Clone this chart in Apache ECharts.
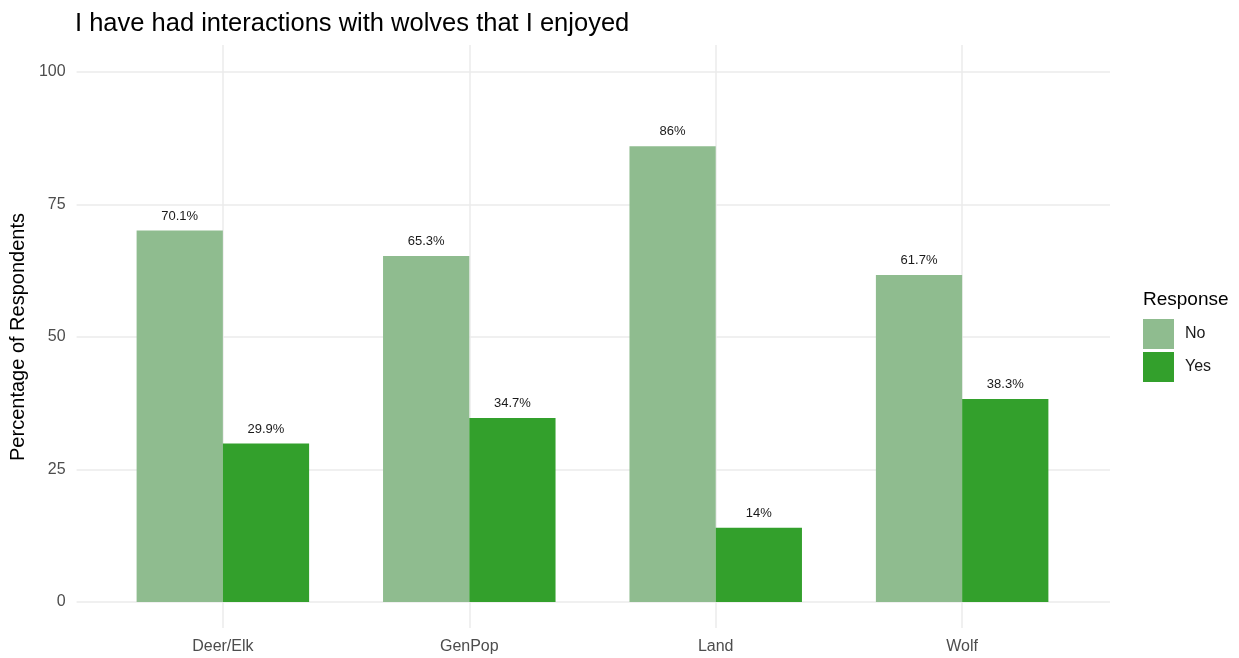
<!DOCTYPE html>
<html>
<head>
<meta charset="utf-8">
<title>Wolf interactions</title>
<script src="https://cdn.jsdelivr.net/npm/echarts@6/dist/echarts.min.js"></script>
<style>
  html, body { margin: 0; padding: 0; background: #ffffff; }
  #chart { width: 1239px; height: 658px; }
</style>
</head>
<body>
<div id="chart"></div>
<script>
// Survey groups and share of respondents answering No / Yes
const categories = ['Deer/Elk', 'GenPop', 'Land', 'Wolf'];
const noValues = [70.1, 65.3, 86, 61.7];
const yesValues = [29.9, 34.7, 14, 38.3];
const yTicks = [0, 25, 50, 75, 100];

const FONT = "'Liberation Sans', Arial, sans-serif";
const GRID_COLOR = '#ebebeb';
const AXIS_TEXT = '#4d4d4d';

const chart = echarts.init(document.getElementById('chart'), null, { renderer: 'canvas' });

// Panel spans x 75..1110; each category band is 1/4.2 of it (0.6 band padding in total)
const panelLeft = 75, panelRight = 1110;
const band = (panelRight - panelLeft) / 4.2;
const barsLeft = panelLeft + 0.1 * band;
const barsRight = panelRight - 0.1 * band;
const firstCenter = barsLeft + band / 2;
const lastCenter = barsLeft + 3.5 * band;

const barLabel = {
  show: true,
  position: 'top',
  distance: 8,
  fontSize: 13,
  fontFamily: FONT,
  color: '#1a1a1a',
  formatter: p => p.value + '%'
};

chart.setOption({
  backgroundColor: '#ffffff',
  animation: false,
  textStyle: { fontFamily: FONT },
  title: [
    {
      text: 'I have had interactions with wolves that I enjoyed',
      left: 75, top: 11, padding: 0,
      textStyle: { fontSize: 25.5, fontWeight: 'normal', color: '#000000', fontFamily: FONT }
    },
    {
      text: 'Response',
      left: 1143, top: 290, padding: 0,
      textStyle: { fontSize: 19, fontWeight: 'normal', color: '#000000', fontFamily: FONT }
    }
  ],
  legend: {
    data: ['No', 'Yes'],
    orient: 'vertical',
    left: 1143, top: 319,
    padding: 0,
    icon: 'rect',
    itemWidth: 31, itemHeight: 30, itemGap: 3,
    textStyle: { fontSize: 16, color: '#1a1a1a', fontFamily: FONT, padding: [4, 0, 0, 6] }
  },
  grid: [
    // bars
    { left: barsLeft, right: 1239 - barsRight, top: 72, bottom: 56 },
    // horizontal gridlines + y labels
    { left: panelLeft, right: 1239 - panelRight, top: 72, bottom: 56 },
    // vertical gridlines at category centres
    { left: firstCenter, right: 1239 - lastCenter, top: 45, bottom: 30 }
  ],
  xAxis: [
    {
      gridIndex: 0, type: 'category', data: categories,
      axisLine: { show: false }, axisTick: { show: false }, splitLine: { show: false },
      axisLabel: { fontSize: 16, color: AXIS_TEXT, margin: 37, fontFamily: FONT }
    },
    {
      gridIndex: 1, type: 'value', min: 0, max: 1, show: false
    },
    {
      gridIndex: 2, type: 'category', data: categories, boundaryGap: false,
      axisLine: { show: false }, axisTick: { show: false }, axisLabel: { show: false },
      splitLine: { show: true, lineStyle: { color: GRID_COLOR, width: 1.5 } }
    }
  ],
  yAxis: [
    {
      gridIndex: 0, type: 'value', min: 0, max: 100, interval: 25,
      axisLine: { show: false }, axisTick: { show: false }, axisLabel: { show: false },
      splitLine: { show: false }
    },
    {
      gridIndex: 1, type: 'value', min: yTicks[0], max: yTicks[yTicks.length - 1], interval: 25,
      axisLine: { show: false }, axisTick: { show: false },
      axisLabel: { fontSize: 16, color: AXIS_TEXT, margin: 11, fontFamily: FONT },
      splitLine: { show: true, lineStyle: { color: GRID_COLOR, width: 1.5 } },
      name: 'Percentage of Respondents',
      nameLocation: 'middle',
      nameGap: 42,
      nameTextStyle: { fontSize: 20, color: '#000000', fontFamily: FONT }
    },
    {
      gridIndex: 2, type: 'value', min: 0, max: 1, show: false
    }
  ],
  series: [
    {
      name: 'No', type: 'bar', xAxisIndex: 0, yAxisIndex: 0,
      data: noValues, barWidth: band * 0.35, barGap: '0%',
      itemStyle: { color: '#8fbc8f' },
      label: barLabel, z: 3
    },
    {
      name: 'Yes', type: 'bar', xAxisIndex: 0, yAxisIndex: 0,
      data: yesValues, barWidth: band * 0.35, barGap: '0%',
      itemStyle: { color: '#33a02c' },
      label: barLabel, z: 3
    }
  ]
});
</script>
</body>
</html>
